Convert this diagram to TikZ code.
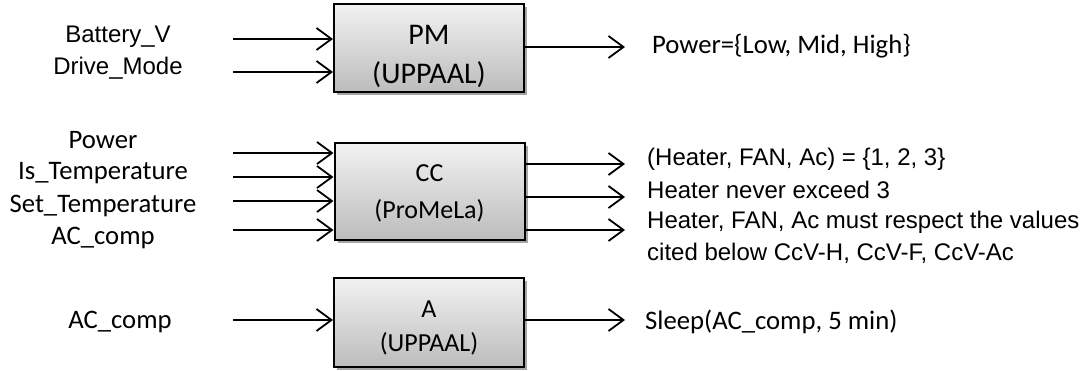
\documentclass[tikz,border=0pt]{standalone}
\usepackage{fontspec}
\setmainfont{Liberation Sans}
\newfontfamily\calib{Carlito}
\usetikzlibrary{arrows.meta,shadows}
\definecolor{boxtop}{RGB}{242,242,242}
\definecolor{boxbot}{RGB}{188,188,188}
\tikzset{
  blockbox/.style={draw=black, line width=2pt, minimum width=190pt, minimum height=88pt,
    top color=boxtop, bottom color=boxbot, inner sep=0pt,
    drop shadow={shadow xshift=3pt, shadow yshift=-3pt, opacity=0.35, fill=black}},
  boxtxt/.style={align=center, inner sep=0pt, font=\calib\fontsize{26}{37}\selectfont},
  flow/.style={line width=2pt, -{Straight Barb[length=15pt,width=22pt,line width=1.8pt]}},
  clbl/.style={inner sep=0pt, font=\calib\fontsize{26.7}{31}\selectfont},
  albl/.style={inner sep=0pt, font=\fontsize{24}{28}\selectfont},
}
\begin{document}
\begin{tikzpicture}[x=1pt,y=-1pt]
\useasboundingbox (0,0) rectangle (1091,370);
% boxes
\node[blockbox, minimum height=88pt] (pm) at (429,48) {};
\node[blockbox, minimum height=97pt] (cc) at (429.5,191.5) {};
\node[blockbox, minimum height=89pt] (a) at (429,322.5) {};
\node[boxtxt, font=\calib\fontsize{30}{39}\selectfont] (pmt) at (429,56) {PM\\(UPPAAL)};
\node[boxtxt] (cct) at (429.5,193) {CC\\(ProMeLa)};
\node[boxtxt, font=\calib\fontsize{26}{34}\selectfont] (at) at (429,328) {A\\(UPPAAL)};
% input coordinates
\coordinate (pi1) at (233,39);
\coordinate (pi2) at (233,72);
\coordinate (ci1) at (233,153);
\coordinate (ci2) at (233,177);
\coordinate (ci3) at (233,201);
\coordinate (ci4) at (233,230);
\coordinate (ai1) at (233,320);
% output coordinates
\coordinate (po1) at (625,47);
\coordinate (co1) at (625,164);
\coordinate (co2) at (625,197);
\coordinate (co3) at (625,230);
\coordinate (ao1) at (625,320);
% inputs
\draw[flow] (pi1) -- (pi1 -| pm.west);
\draw[flow] (pi2) -- (pi2 -| pm.west);
\draw[flow] (ci1) -- (ci1 -| cc.west);
\draw[flow] (ci2) -- (ci2 -| cc.west);
\draw[flow] (ci3) -- (ci3 -| cc.west);
\draw[flow] (ci4) -- (ci4 -| cc.west);
\draw[flow] (ai1) -- (ai1 -| a.west);
% outputs
\draw[flow] (po1 -| pm.east) -- (po1);
\draw[flow] (co1 -| cc.east) -- (co1);
\draw[flow] (co2 -| cc.east) -- (co2);
\draw[flow] (co3 -| cc.east) -- (co3);
\draw[flow] (ao1 -| a.east) -- (ao1);
% left labels
\node[albl] (lb1) at (118,37) {Battery\_V};
\node[albl] (lb2) at (118,68) {Drive\_Mode};
\node[clbl] (lc1) at (103,140) {Power};
\node[clbl] (lc2) at (103,173) {Is\_Temperature};
\node[clbl] (lc3) at (103,206) {Set\_Temperature};
\node[clbl] (lc4) at (103,238) {AC\_comp};
\node[clbl] (la1) at (120,322) {AC\_comp};
% right labels
\node[clbl, anchor=west] (rp1) at (652,46) {Power=\{Low, Mid, High\}};
\node[albl, anchor=west] (rc1) at (647,159) {(Heater, FAN, Ac) = \{1, 2, 3\}};
\node[albl, anchor=west] (rc2) at (647,190) {Heater never exceed 3};
\node[albl, anchor=west] (rc3) at (647,222) {Heater, FAN, Ac must respect the values};
\node[albl, anchor=west] (rc4) at (647,253) {cited below CcV-H, CcV-F, CcV-Ac};
\node[clbl, anchor=west] (ra1) at (645,322) {Sleep(AC\_comp, 5 min)};
\end{tikzpicture}
\end{document}
